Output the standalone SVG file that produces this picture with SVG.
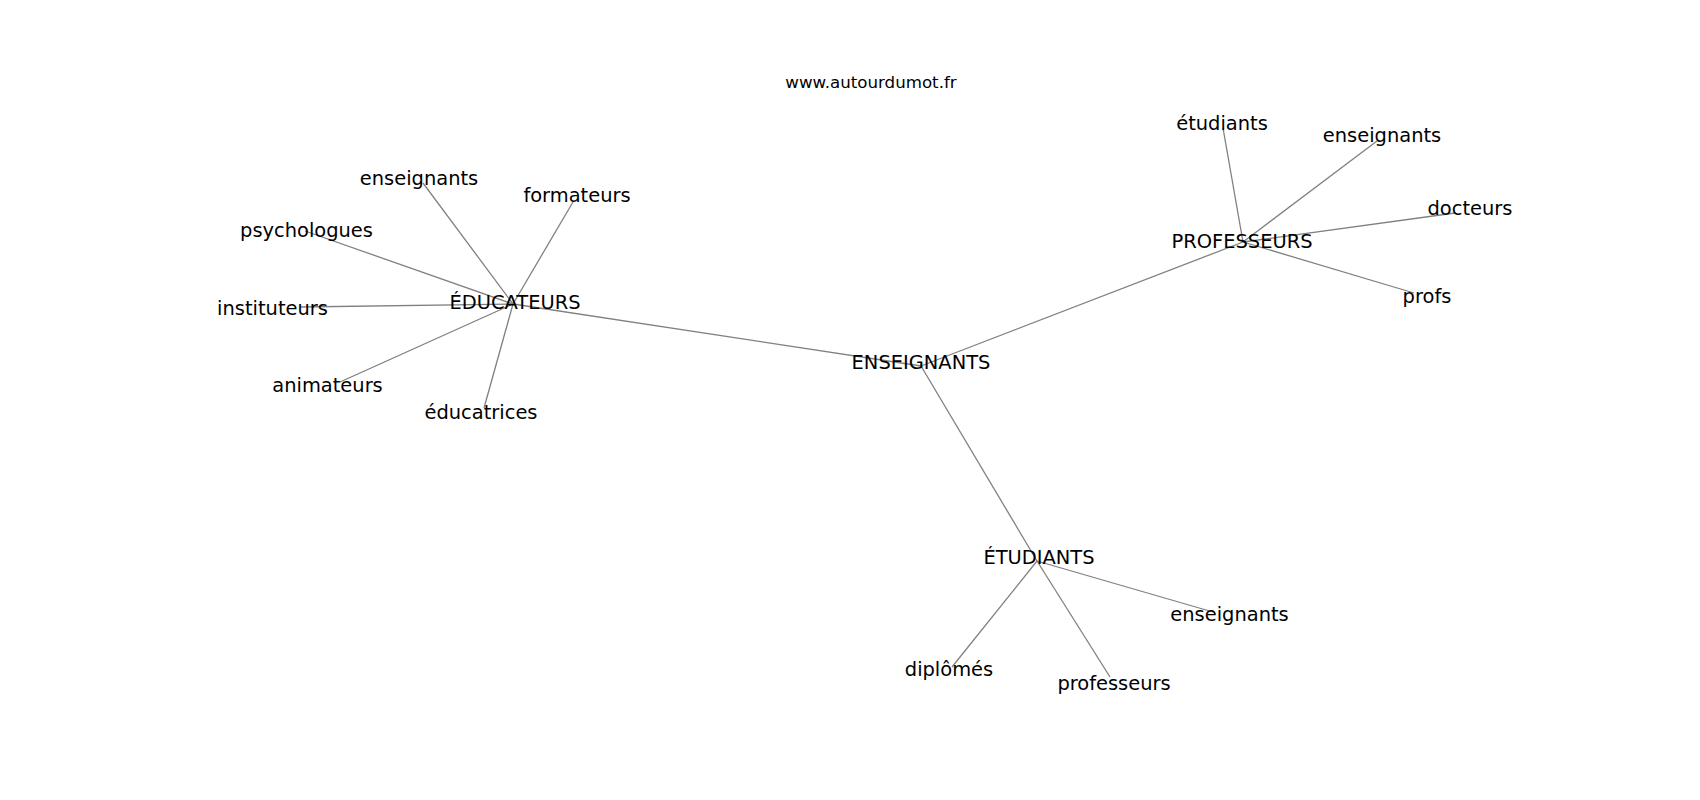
<svg xmlns="http://www.w3.org/2000/svg" width="1700" height="800" viewBox="0 0 1700 800">
<style>
.e{stroke:#808080;stroke-width:1.3;fill:none}
.t{font-family:"DejaVu Sans",sans-serif;font-size:19.44px;fill:#000;text-anchor:middle}
.title{font-family:"DejaVu Sans",sans-serif;font-size:16.67px;fill:#000;text-anchor:middle}
</style>
<rect width="1700" height="800" fill="#fff"/>
<text class="title" x="871" y="88">www.autourdumot.fr</text>
<g id="edges">
<line class="e" x1="513" y1="304" x2="921" y2="366"/>
<line class="e" x1="921" y1="366" x2="1243" y2="242"/>
<line class="e" x1="921" y1="366" x2="1037" y2="561"/>
<line class="e" x1="513" y1="304" x2="423" y2="183"/>
<line class="e" x1="513" y1="304" x2="573" y2="202"/>
<line class="e" x1="513" y1="304" x2="305" y2="231"/>
<line class="e" x1="513" y1="304" x2="300" y2="307"/>
<line class="e" x1="513" y1="304" x2="340" y2="382"/>
<line class="e" x1="513" y1="304" x2="484" y2="408"/>
<line class="e" x1="1243" y1="242" x2="1223" y2="128"/>
<line class="e" x1="1243" y1="242" x2="1377" y2="141"/>
<line class="e" x1="1243" y1="242" x2="1455" y2="213"/>
<line class="e" x1="1243" y1="242" x2="1414" y2="293"/>
<line class="e" x1="1037" y1="561" x2="1213" y2="612"/>
<line class="e" x1="1037" y1="561" x2="952" y2="667"/>
<line class="e" x1="1037" y1="561" x2="1110" y2="677"/>
</g>
<g id="n-enseignants-center"><text class="t" x="921" y="368.5">ENSEIGNANTS</text></g>
<g id="n-educateurs"><text class="t" x="515" y="309.3">ÉDUCATEURS</text></g>
<g id="n-professeurs"><text class="t" x="1242" y="247.7">PROFESSEURS</text></g>
<g id="n-etudiants"><text class="t" x="1039" y="564.3">ÉTUDIANTS</text></g>
<g id="n-edu-enseignants"><text class="t" x="419" y="185">enseignants</text></g>
<g id="n-edu-formateurs"><text class="t" x="577" y="202">formateurs</text></g>
<g id="n-edu-psychologues"><text class="t" x="306.5" y="236.8">psychologues</text></g>
<g id="n-edu-instituteurs"><text class="t" x="272.5" y="315">instituteurs</text></g>
<g id="n-edu-animateurs"><text class="t" x="327.5" y="391.7">animateurs</text></g>
<g id="n-edu-educatrices"><text class="t" x="481" y="418.5">éducatrices</text></g>
<g id="n-pro-etudiants"><text class="t" x="1222" y="130">étudiants</text></g>
<g id="n-pro-enseignants"><text class="t" x="1382" y="141.7">enseignants</text></g>
<g id="n-pro-docteurs"><text class="t" x="1470" y="215">docteurs</text></g>
<g id="n-pro-profs"><text class="t" x="1427" y="303.3">profs</text></g>
<g id="n-etu-enseignants"><text class="t" x="1229.5" y="620.7">enseignants</text></g>
<g id="n-etu-diplomes"><text class="t" x="949" y="675.7">diplômés</text></g>
<g id="n-etu-professeurs"><text class="t" x="1114" y="690">professeurs</text></g>
</svg>
